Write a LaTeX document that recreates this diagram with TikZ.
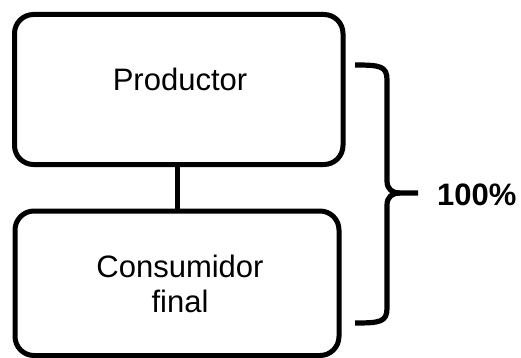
\documentclass[tikz,border=0pt]{standalone}
\usepackage{fontspec}
\setmainfont{Liberation Sans}
\begin{document}
\begin{tikzpicture}[x=1pt,y=-1pt,
  boxstyle/.style={draw=black,line width=5pt,rounded corners=19pt},
  txt/.style={inner sep=0pt,anchor=base,font=\fontsize{31}{37}\selectfont},
  linkline/.style={line width=5pt},
  bracestyle/.style={line width=5.2pt,line cap=butt,line join=round}]
\useasboundingbox (0,0) rectangle (521,358);
\draw[boxstyle] (14.5,14.5) rectangle (343,164.5);
\coordinate (topbot) at (177,164.5);
\draw[boxstyle] (15,211) rectangle (339,355.5);
\coordinate (bottop) at (177,211);
\draw[linkline] (topbot) -- (bottop);
\node[txt] (prod) at (180,91) {Productor};
\node[txt] (cons) at (180,277) {Consumidor};
\node[txt] (fin) at (180,312) {final};
\coordinate (bt) at (355,65);
\coordinate (bb) at (355,323);
\coordinate (tip) at (418,193);
\draw[bracestyle] (bt) .. controls (380,65) and (387,66) .. (387,80)
  -- (387,181) .. controls (387,189) and (392,193) .. (400,193) -- (tip);
\draw[bracestyle] (bb) .. controls (380,323) and (387,322) .. (387,308)
  -- (387,205) .. controls (387,197) and (392,193) .. (400,193);
\node[txt,anchor=base west,font=\fontsize{31}{37}\selectfont\bfseries] (pct) at (437,205) {100\%};
\end{tikzpicture}
\end{document}
